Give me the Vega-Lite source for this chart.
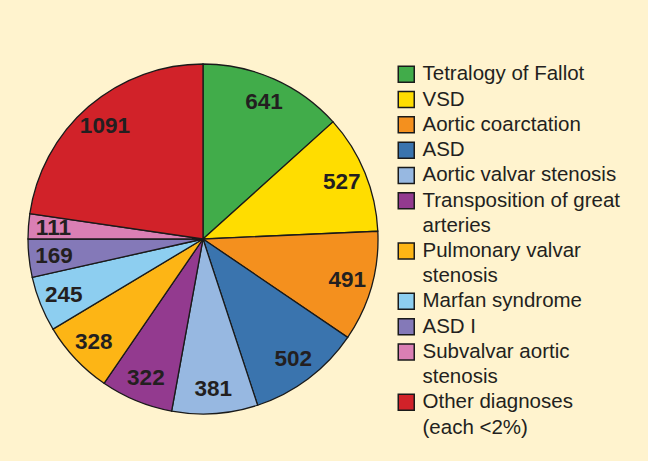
{
  "$schema": "https://vega.github.io/schema/vega-lite/v6.json",
  "width": 350,
  "height": 350,
  "padding": {"left": 25, "top": 61, "right": 40, "bottom": 60},
  "background": "#FFF3CE",
  "config": {"view": {"stroke": null}},
  "data": {
    "values": [
      {"rank": 1, "diagnosis": "Tetralogy of Fallot", "count": 641},
      {"rank": 2, "diagnosis": "VSD", "count": 527},
      {"rank": 3, "diagnosis": "Aortic coarctation", "count": 491},
      {"rank": 4, "diagnosis": "ASD", "count": 502},
      {"rank": 5, "diagnosis": "Aortic valvar stenosis", "count": 381},
      {"rank": 6, "diagnosis": "Transposition of great arteries", "count": 322},
      {"rank": 7, "diagnosis": "Pulmonary valvar stenosis", "count": 328},
      {"rank": 8, "diagnosis": "Marfan syndrome", "count": 245},
      {"rank": 9, "diagnosis": "ASD I", "count": 169},
      {"rank": 10, "diagnosis": "Subvalvar aortic stenosis", "count": 111},
      {"rank": 11, "diagnosis": "Other diagnoses (each <2%)", "count": 1091}
    ]
  },
  "encoding": {
    "theta": {"field": "count", "type": "quantitative", "stack": true},
    "order": {"field": "rank", "type": "quantitative"}
  },
  "layer": [
    {
      "mark": {"type": "arc", "stroke": "#1a1a1a", "strokeWidth": 1.3},
      "encoding": {
        "color": {
          "field": "diagnosis",
          "type": "nominal",
          "scale": {
            "domain": ["Tetralogy of Fallot", "VSD", "Aortic coarctation", "ASD", "Aortic valvar stenosis", "Transposition of great arteries", "Pulmonary valvar stenosis", "Marfan syndrome", "ASD I", "Subvalvar aortic stenosis", "Other diagnoses (each <2%)"],
            "range": ["#41AC4A", "#FFDD00", "#F4901E", "#3A74AE", "#97B8E1", "#933A8F", "#FDB515", "#8DCEF0", "#8479B8", "#DA7FB4", "#D12229"]
          },
          "legend": {
            "title": null,
            "orient": "right",
            "offset": 18,
            "padding": 0,
            "symbolType": "square",
            "symbolSize": 256,
            "symbolStrokeColor": "#1a1a1a",
            "symbolStrokeWidth": 1.5,
            "symbolOpacity": 1,
            "labelFont": "Liberation Sans",
            "labelFontSize": 20.5,
            "labelColor": "#231F20",
            "labelLimit": 300,
            "labelOffset": 6,
            "rowPadding": 2.3,
            "encode": {"labels": {"update": {"lineHeight": {"value": 25.3}}}},
            "labelExpr": "datum.label == 'Transposition of great arteries' ? ['Transposition of great', 'arteries'] : datum.label == 'Pulmonary valvar stenosis' ? ['Pulmonary valvar', 'stenosis'] : datum.label == 'Subvalvar aortic stenosis' ? ['Subvalvar aortic', 'stenosis'] : datum.label == 'Other diagnoses (each <2%)' ? ['Other diagnoses', '(each <2%)'] : datum.label"
          }
        }
      }
    },
    {
      "mark": {"type": "text", "radius": 150, "font": "Liberation Sans", "fontWeight": "bold", "fontSize": 22.5, "fill": "#231F20"},
      "encoding": {
        "text": {"field": "count", "type": "quantitative", "format": "d"}
      }
    }
  ]
}
